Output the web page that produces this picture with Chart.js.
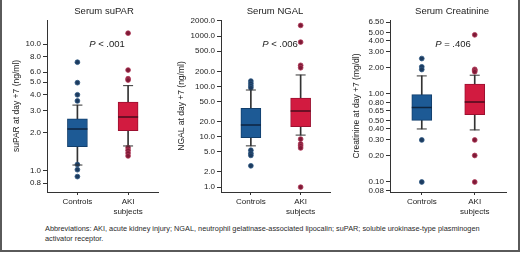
<!DOCTYPE html>
<html>
<head>
<meta charset="utf-8">
<script src="https://cdn.jsdelivr.net/npm/chart.js@4"></script>
<style>
  html, body { margin: 0; padding: 0; background: #fff; }
  #frame { position: relative; width: 516px; height: 250px; border: 2px solid #5a5a5a; border-top: none; overflow: hidden; }
  canvas { position: absolute; top: 0; }
  #caption { position: absolute; left: 43px; top: 224px; width: 470px; white-space: nowrap; font: 7.35px/10px "Liberation Sans Narrow", "Arial Narrow", "Liberation Sans", sans-serif; color: #2a2a2a; }
</style>
</head>
<body>
<div id="frame">
  <canvas id="c1" width="170" height="220" style="left:-2px"></canvas>
  <canvas id="c2" width="172" height="220" style="left:168px"></canvas>
  <canvas id="c3" width="176" height="220" style="left:340px"></canvas>
  <div id="caption">Abbreviations: AKI, acute kidney injury; NGAL, neutrophil gelatinase-associated lipocalin; suPAR; soluble urokinase-type plasminogen<br>activator receptor.</div>
</div>
<script>
const groups = ['Controls', ['AKI', 'subjects']];

// box = [q1, median, q3], whisker = [low, high]
const suparCtrlBox = [1.55, 2.14, 2.57];
const suparCtrlWhisker = [1.11, 3.3];
const suparCtrlOut = [7.2, 4.96, 3.98, 3.56, 1.12, 1.02, 0.9];
const suparAkiBox = [2.07, 2.66, 3.49];
const suparAkiWhisker = [1.57, 4.7];
const suparAkiOut = [12.2, 6.24, 5.33, 5.2, 1.52, 1.45, 1.38, 1.31];
const suparTicks = [0.8, 1, 2, 3, 4, 5, 6, 8, 10];
const suparRange = [0.68, 15.5];

const ngalCtrlBox = [9.6, 17.1, 36.7];
const ngalCtrlWhisker = [6.6, 85];
const ngalCtrlOut = [128, 115, 103, 94, 5.4, 4.7, 4.27, 2.65];
const ngalAkiBox = [15.8, 32.4, 58.6];
const ngalAkiWhisker = [10.8, 169];
const ngalAkiOut = [1630, 760, 263, 235, 9.0, 7.2, 6.6, 6.0, 1.0];
const ngalTicks = [1, 2, 5, 10, 20, 50, 100, 200, 500, 1000, 2000];
const ngalRange = [0.8, 2090];

const creatCtrlBox = [0.5, 0.7, 0.98];
const creatCtrlWhisker = [0.40, 1.6];
const creatCtrlOut = [2.52, 2.03, 1.89, 0.3, 0.1];
const creatAkiBox = [0.58, 0.81, 1.29];
const creatAkiWhisker = [0.39, 1.63];
const creatAkiOut = [4.68, 1.9, 1.85, 1.78, 0.3, 0.2, 0.1];
const creatTicks = [0.08, 0.1, 0.2, 0.3, 0.4, 0.5, 0.65, 0.8, 1, 2, 3, 4, 5, 6.5];
const creatRange = [0.077, 6.9];

const BLUE = '#1d5a95', BLUE_EDGE = '#123f6c', BLUE_DOT = '#1d3b5f';
const RED = '#d21b40', RED_EDGE = '#9c1030', RED_DOT = '#7e1a36';
const NARROW = '"Liberation Sans Narrow", "Arial Narrow", "Liberation Sans", sans-serif';
const REG = '"Liberation Sans", Arial, sans-serif';

const panelText = {
  id: 'panelText',
  afterDraw(chart, args, o) {
    const ctx = chart.ctx;
    ctx.save();
    ctx.fillStyle = '#222';
    ctx.textBaseline = 'middle';
    ctx.textAlign = 'center';
    ctx.font = '9.5px ' + NARROW;
    ctx.fillText(o.title, o.titleX, 11);
    ctx.textAlign = 'left';
    ctx.font = 'italic 9.5px ' + REG;
    const wP = ctx.measureText('P').width;
    ctx.font = '9.5px ' + REG;
    const wR = ctx.measureText(o.pText).width;
    let x = o.pX - (wP + wR) / 2;
    ctx.font = 'italic 9.5px ' + REG;
    ctx.fillText('P', x, 44);
    ctx.font = '9.5px ' + REG;
    ctx.fillText(o.pText, x + wP, 44);
    ctx.restore();
  }
};

function makePanel(id, p) {
  const pts = (x, arr) => arr.map(v => ({ x: x, y: v }));
  new Chart(document.getElementById(id), {
    type: 'bar',
    data: {
      datasets: [
        { type: 'scatter', data: [{ x: 0, y: p.ctrlBox[1] }, { x: 1, y: p.akiBox[1] }],
          pointStyle: 'line', pointRadius: 10, borderWidth: 1.5,
          borderColor: ['#0e2540', '#4a0c1c'], pointBorderColor: ['#0e2540', '#4a0c1c'], order: 0 },
        { type: 'scatter', data: [...pts(0, p.ctrlWhisker), ...pts(1, p.akiWhisker)],
          pointStyle: 'line', pointRadius: 5, borderWidth: 1, borderColor: '#333', pointBorderColor: '#333', order: 1 },
        { type: 'scatter', data: pts(0, p.ctrlOut), pointRadius: 2.4, borderWidth: 0.8,
          backgroundColor: BLUE_DOT, borderColor: '#2b5580', order: 1 },
        { type: 'scatter', data: pts(1, p.akiOut), pointRadius: 2.4, borderWidth: 0.8,
          backgroundColor: RED_DOT, borderColor: '#b03858', order: 1 },
        { data: [{ x: 0, y: [p.ctrlBox[0], p.ctrlBox[2]] }, { x: 1, y: [p.akiBox[0], p.akiBox[2]] }],
          backgroundColor: [BLUE, RED], borderColor: [BLUE_EDGE, RED_EDGE], borderWidth: 1,
          borderSkipped: false, barThickness: 20, grouped: false, order: 2 },
        { data: [{ x: 0, y: p.ctrlWhisker }, { x: 1, y: p.akiWhisker }],
          backgroundColor: '#333', barThickness: 1, grouped: false, order: 3 }
      ]
    },
    options: {
      responsive: false, animation: false,
      layout: { padding: { top: 20, right: p.padRight, left: 0, bottom: 0 } },
      plugins: {
        legend: { display: false }, tooltip: { enabled: false },
        panelText: { title: p.title, titleX: p.titleX, pText: p.pText, pX: p.pX }
      },
      scales: {
        x: {
          type: 'linear', min: -0.6, max: 1.6, offset: false,
          afterBuildTicks: s => { s.ticks = [{ value: 0 }, { value: 1 }]; },
          afterFit: s => { s.height = 28; },
          grid: { drawOnChartArea: false, offset: false, tickLength: 3, color: '#333' },
          border: { color: '#333' },
          ticks: { padding: 2, color: '#222', font: { size: 8, family: REG, lineHeight: 1.25 },
            callback: v => groups[v] }
        },
        y: {
          type: 'logarithmic', min: p.range[0], max: p.range[1],
          afterBuildTicks: s => { s.ticks = p.ticks.map(v => ({ value: v })); },
          afterFit: s => { s.width = p.axisW; },
          grid: { drawOnChartArea: false, tickLength: 4, color: '#333' },
          border: { color: '#333' },
          ticks: { padding: 2, autoSkip: false, color: '#222', font: { size: 8, family: REG },
            callback: v => Number(v).toFixed(p.digits) },
          title: { display: true, text: p.yTitle, color: '#222', padding: { top: p.titlePad, bottom: 0 },
            font: { size: 8.5, family: NARROW } }
        }
      }
    },
    plugins: [panelText]
  });
}

makePanel('c1', { ctrlBox: suparCtrlBox, ctrlWhisker: suparCtrlWhisker, ctrlOut: suparCtrlOut,
  akiBox: suparAkiBox, akiWhisker: suparAkiWhisker, akiOut: suparAkiOut,
  ticks: suparTicks, range: suparRange, digits: 1, axisW: 47, padRight: 4, titlePad: 12,
  yTitle: 'suPAR at day +7 (ng/ml)', title: 'Serum suPAR', titleX: 104, pText: ' < .001', pX: 107 });
makePanel('c2', { ctrlBox: ngalCtrlBox, ctrlWhisker: ngalCtrlWhisker, ctrlOut: ngalCtrlOut,
  akiBox: ngalAkiBox, akiWhisker: ngalAkiWhisker, akiOut: ngalAkiOut,
  ticks: ngalTicks, range: ngalRange, digits: 1, axisW: 51, padRight: 0, titlePad: 7,
  yTitle: 'NGAL at day +7 (ng/ml)', title: 'Serum NGAL', titleX: 105, pText: ' < .006', pX: 110 });
makePanel('c3', { ctrlBox: creatCtrlBox, ctrlWhisker: creatCtrlWhisker, ctrlOut: creatCtrlOut,
  akiBox: creatAkiBox, akiWhisker: creatAkiWhisker, akiOut: creatAkiOut,
  ticks: creatTicks, range: creatRange, digits: 2, axisW: 48, padRight: 6, titlePad: 10,
  yTitle: 'Creatinine at day +7 (mg/dl)', title: 'Serum Creatinine', titleX: 110, pText: ' = .406', pX: 111 });
</script>
</body>
</html>
